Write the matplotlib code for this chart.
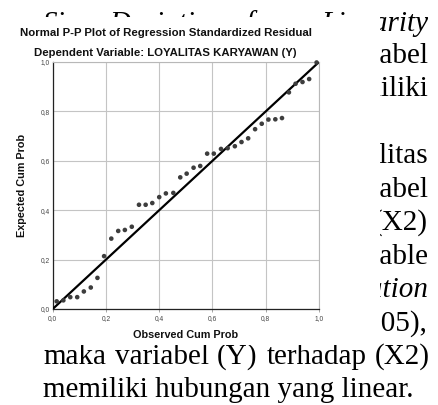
import matplotlib
matplotlib.use("Agg")
import matplotlib.pyplot as plt
from matplotlib.patches import Rectangle

W, H = 439, 405

# observed vs expected cumulative probabilities
observed = [0.015, 0.040, 0.066, 0.092, 0.117, 0.143, 0.168, 0.193, 0.220, 0.246,
            0.271, 0.297, 0.324, 0.349, 0.374, 0.400, 0.425, 0.453, 0.479, 0.503,
            0.529, 0.554, 0.580, 0.605, 0.632, 0.657, 0.684, 0.709, 0.734, 0.760,
            0.785, 0.810, 0.836, 0.861, 0.887, 0.912, 0.938, 0.963, 0.991]
expected = [0.031, 0.035, 0.048, 0.048, 0.071, 0.087, 0.126, 0.214, 0.285, 0.316,
            0.320, 0.333, 0.422, 0.422, 0.429, 0.453, 0.468, 0.470, 0.533, 0.548,
            0.572, 0.579, 0.629, 0.629, 0.648, 0.651, 0.659, 0.676, 0.691, 0.728,
            0.750, 0.767, 0.768, 0.773, 0.877, 0.912, 0.919, 0.931, 0.998]
ticks = [0.0, 0.2, 0.4, 0.6, 0.8, 1.0]
tick_labels = ["0,0", "0,2", "0,4", "0,6", "0,8", "1,0"]

title = "Normal P-P Plot of Regression Standardized Residual"
subtitle = "Dependent Variable: LOYALITAS KARYAWAN (Y)"

# document text that sits around the pasted chart
doc_right = [
    (54, "variabel", "normal"),
    (87, "memiliki", "normal"),
    (154, "Loyalitas", "normal"),
    (188, "variabel", "normal"),
    (221, "(X2)", "normal"),
    (255, "variable", "normal"),
    (288, "Deviation", "italic"),
    (322, "0,05),", "normal"),
]
doc_top = "Sig. Deviation from Linearity"
doc_bottom = ["maka variabel (Y) terhadap (X2)", "memiliki hubungan yang linear."]


def fx(px):
    return px / W


def fy(py):
    return 1 - py / H


fig = plt.figure(figsize=(W / 100, H / 100), dpi=100)
renderer = fig.canvas.get_renderer()

serif = dict(family="Liberation Serif", fontsize=21, color="black", zorder=-2, va="baseline")
base = 9  # centre -> baseline offset in px


def justify(words, x0, x1, py, **kw):
    arts = [fig.text(0, fy(py + base), w, **kw) for w in words]
    widths = [a.get_window_extent(renderer).width for a in arts]
    gap = (x1 - x0 - sum(widths)) / (len(words) - 1)
    x = x0
    for a, w in zip(arts, widths):
        a.set_x(fx(x))
        x += w + gap


justify(doc_top.split(), 43, 428, 22, style="italic", **serif)
for py, word, style in doc_right:
    fig.text(fx(428), fy(py + base), word, ha="right", style=style, **serif)
justify(doc_bottom[0].split(), 43, 430, 355, **serif)
fig.text(fx(43), fy(388 + base), doc_bottom[1], ha="left", **serif)

# white background of the pasted SPSS chart
fig.patches.append(Rectangle((0, fy(345)), fx(380), fy(17) - fy(345),
                             transform=fig.transFigure, facecolor="white",
                             edgecolor="none", zorder=-1))

sans = "Liberation Sans"
fig.text(fx(166), fy(33), title, ha="center", va="center", family=sans,
         fontweight="bold", fontsize=8.2, color="#111111")
fig.text(fx(165), fy(53), subtitle, ha="center", va="center", family=sans,
         fontweight="bold", fontsize=8.2, color="#111111")

ax = fig.add_axes([fx(52.7), fy(309), fx(319) - fx(52.7), fy(62) - fy(309)])
ax.set_facecolor("white")
ax.set_xlim(0, 1)
ax.set_ylim(0, 1)
ax.set_xticks(ticks)
ax.set_yticks(ticks)
ax.set_xticklabels(tick_labels)
ax.set_yticklabels(tick_labels)
ax.grid(True, color="#c4c4c4", linewidth=0.8)
ax.set_axisbelow(True)
for side in ["top", "right"]:
    ax.spines[side].set_color("#b8b8b8")
    ax.spines[side].set_linewidth(0.8)
for side in ["left", "bottom"]:
    ax.spines[side].set_color("#222222")
    ax.spines[side].set_linewidth(0.9)
ax.tick_params(axis="x", length=2, width=0.6, color="#999999", pad=2,
               labelsize=4.8, labelcolor="#444444")
ax.tick_params(axis="y", length=0, pad=2, labelsize=4.8, labelcolor="#444444")
for lab in ax.get_xticklabels() + ax.get_yticklabels():
    lab.set_family(sans)

ax.plot([0, 1], [0, 1], color="black", linewidth=1.6, zorder=3)
ax.scatter(observed, expected, s=11, color="#3d3d3d", edgecolors="none",
           zorder=4, clip_on=False)

ax.set_xlabel("Observed Cum Prob", family=sans, fontweight="bold",
              fontsize=7.8, color="#111111", labelpad=6)
ax.set_ylabel("Expected Cum Prob", family=sans, fontweight="bold",
              fontsize=7.8, color="#111111", labelpad=10)

fig.savefig("out.png", dpi=100)
